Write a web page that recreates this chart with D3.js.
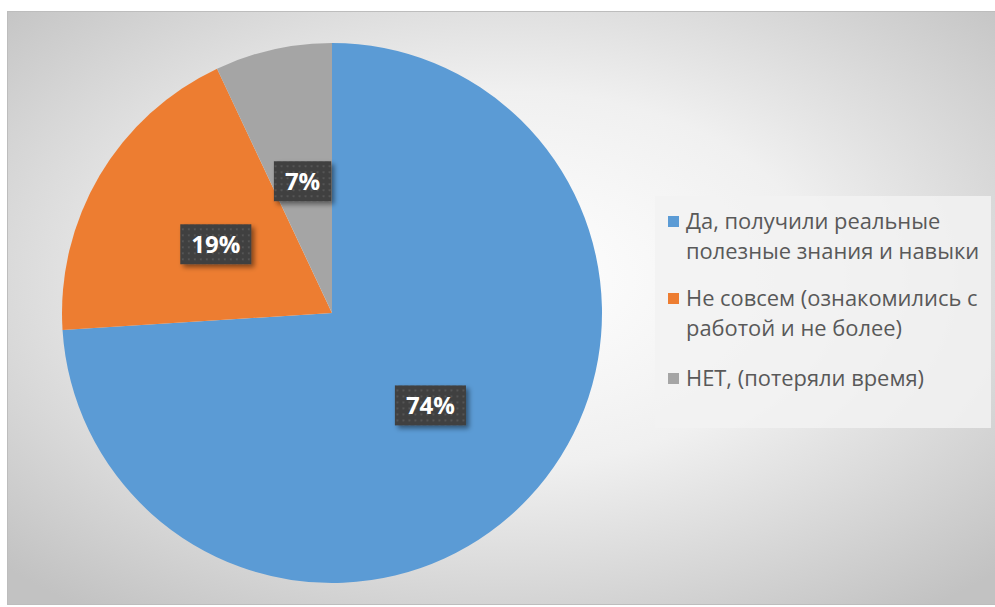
<!DOCTYPE html>
<html><head><meta charset="utf-8">
<script src="https://cdn.jsdelivr.net/npm/d3@7"></script>
<style>html,body{margin:0;padding:0;background:#fff;}svg{display:block;}</style>
</head><body>
<script>
const categories = ["Да, получили реальные полезные знания и навыки", "Не совсем (ознакомились с работой и не более)", "НЕТ, (потеряли время)"];
const legendLines = [["Да, получили реальные", "полезные знания и навыки"], ["Не совсем (ознакомились с", "работой и не более)"], ["НЕТ, (потеряли время)"]];
const values = [74, 19, 7];
const labels = ["74%", "19%", "7%"];
const colors = ["#5b9bd5", "#ed7d31", "#a5a5a5"];

const W = 995, H = 607;
const svg = d3.select("body").append("svg").attr("width", W).attr("height", H);
const defs = svg.append("defs");
const rg = defs.append("radialGradient").attr("id", "bg").attr("cx", "50%").attr("cy", "45%").attr("r", "70%");
rg.append("stop").attr("offset", "0%").attr("stop-color", "#ffffff");
rg.append("stop").attr("offset", "45%").attr("stop-color", "#f0f0f0");
rg.append("stop").attr("offset", "100%").attr("stop-color", "#c2c2c2");
const pat = defs.append("pattern").attr("id", "dots").attr("width", 6).attr("height", 6).attr("patternUnits", "userSpaceOnUse");
pat.append("rect").attr("width", 6).attr("height", 6).attr("fill", "#3f3f3f");
pat.append("rect").attr("x", 2).attr("y", 2).attr("width", 2).attr("height", 2).attr("fill", "#545454");
const sh = defs.append("filter").attr("id", "shadow").attr("x", "-30%").attr("y", "-30%").attr("width", "160%").attr("height", "160%");
sh.append("feDropShadow").attr("dx", 3).attr("dy", 3).attr("stdDeviation", 2.5).attr("flood-color", "#000").attr("flood-opacity", 0.45);

svg.append("rect").attr("x", 7.5).attr("y", 11.5).attr("width", W).attr("height", H - 14)
  .attr("fill", "url(#bg)").attr("stroke", "#bdbdbd").attr("stroke-width", 1);

const cx = 332, cy = 313, R = 270;
const pie = d3.pie().sort(null).value(d => d)(values);
const arc = d3.arc().innerRadius(0).outerRadius(R);
const labelArc = d3.arc().innerRadius(R * 0.5).outerRadius(R * 0.5);
const g = svg.append("g").attr("transform", `translate(${cx},${cy})`);
g.selectAll("path.slice").data(pie).join("path").attr("class", "slice")
  .attr("d", arc).attr("fill", (d, i) => colors[i]);

const lg = g.selectAll("g.lbl").data(pie).join("g").attr("class", "lbl")
  .attr("transform", d => { const c = labelArc.centroid(d); return `translate(${c[0]},${c[1]})`; });
lg.each(function(d, i) {
  const sel = d3.select(this);
  const r = sel.append("rect").attr("fill", "url(#dots)").attr("filter", "url(#shadow)");
  const t = sel.append("text").text(labels[i]).attr("text-anchor", "middle").attr("dy", "0.36em")
    .attr("font-family", "'Open Sans', sans-serif").attr("font-weight", "bold").attr("font-size", 24)
    .attr("fill", "#fff");
  const bb = t.node().getBBox();
  r.attr("x", -bb.width / 2 - 11).attr("y", -20).attr("width", bb.width + 22).attr("height", 40);
});

// legend
const lx = 655, ly = 196;
svg.append("rect").attr("x", lx).attr("y", ly).attr("width", 336).attr("height", 232)
  .attr("fill", "#f2f2f2").attr("fill-opacity", 0.85);
const entryY = [229, 306, 386];
const leg = svg.selectAll("g.leg").data(categories).join("g").attr("class", "leg");
leg.each(function(d, i) {
  const sel = d3.select(this);
  sel.append("rect").attr("x", 668).attr("y", entryY[i] - 13).attr("width", 11).attr("height", 11).attr("fill", colors[i]);
  const t = sel.append("text").attr("x", 686).attr("y", entryY[i])
    .attr("font-family", "'Open Sans', sans-serif").attr("font-size", 21.9).attr("fill", "#595959");
  legendLines[i].forEach((ln, j) => {
    t.append("tspan").attr("x", 686).attr("y", entryY[i] + j * 30).text(ln);
  });
});
</script>
</body></html>
